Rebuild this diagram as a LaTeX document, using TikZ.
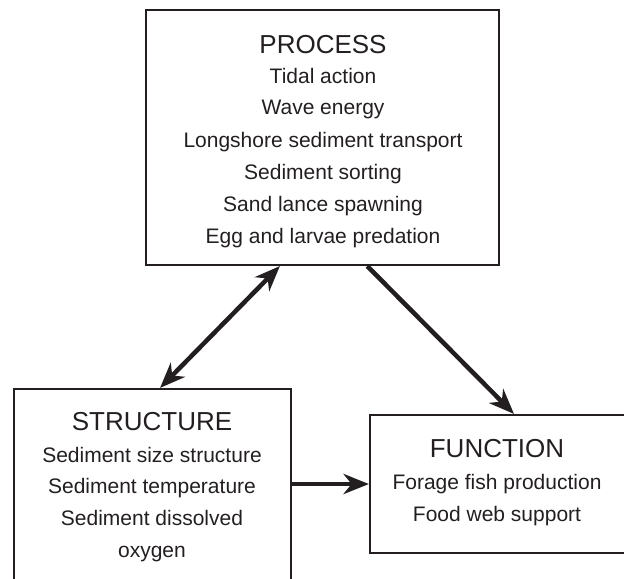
\documentclass[tikz,border=0pt]{standalone}
\usepackage{fontspec}
\setmainfont{Liberation Sans}
\usetikzlibrary{arrows.meta, positioning, calc, fit}
\definecolor{inkblack}{HTML}{231F20}

\begin{document}
\begin{tikzpicture}[x=0.75pt, y=-0.75pt,
    box/.style={draw=inkblack, line width=1.6pt, inner sep=0pt},
    heading/.style={font=\fontsize{19.5}{24}\selectfont, text=inkblack, anchor=base},
    item/.style={font=\fontsize{15.75}{24}\selectfont, text=inkblack, anchor=base},
    link/.style={draw=inkblack, line width=3.4pt},
    >={Stealth[length=19pt, width=15pt, inset=6pt]}]

  \useasboundingbox (0,0) rectangle (624,578);
  \clip (0,0) rectangle (624,578);

  % Boxes (structure and function run off the page)
  \node[box, fit={(146,10) (499,265)}] (process) {};
  \node[box, fit={(14,389) (291,620)}] (structure) {};
  \node[box, fit={(370,415) (658,553)}] (function) {};

  % Process text
  \node[heading] (proc) at (323,53) {PROCESS};
  \foreach \y/\entry [count=\i] in {
    83/Tidal action,
    114/Wave energy,
    147/Longshore sediment transport,
    179/Sediment sorting,
    211/Sand lance spawning,
    243/Egg and larvae predation
  } {
    \node[item] (proc\i) at (323,\y) {\entry};
  }

  % Structure text
  \node[heading] (struc) at (152,430) {STRUCTURE};
  \foreach \y/\entry [count=\i] in {
    462/Sediment size structure,
    493/Sediment temperature,
    525/Sediment dissolved,
    557/oxygen
  } {
    \node[item] (struc\i) at (152,\y) {\entry};
  }

  % Function text
  \node[heading] (func) at (497,457) {FUNCTION};
  \foreach \y/\entry [count=\i] in {
    489/Forage fish production,
    521/Food web support
  } {
    \node[item] (func\i) at (497,\y) {\entry};
  }

  % Links
  \draw[link, <->] ($(process.south west)!0.38!(process.south east)$)
    -- ($(structure.north west)!0.527!(structure.north east)$);
  \draw[link, ->] ($(process.south west)!0.626!(process.south east)$) -- (function.north);
  \draw[link, ->] (structure.east |- function.west) -- (function.west);
\end{tikzpicture}
\end{document}
